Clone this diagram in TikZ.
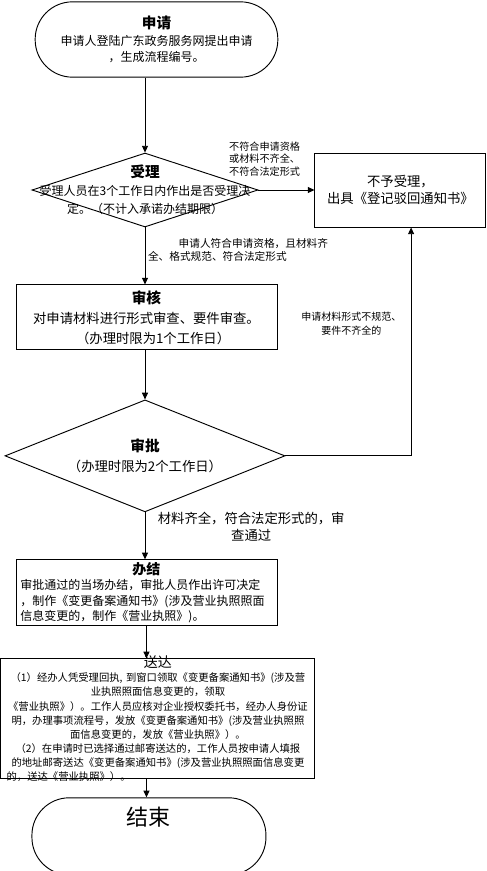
\documentclass[tikz,border=0pt]{standalone}
\usepackage{fontspec}
\setmainfont{Noto Sans CJK SC}
\usepackage{tikz}
\usetikzlibrary{shapes.geometric,arrows.meta,positioning}
\newcommand{\ttl}[1]{{\fontsize{11}{13}\selectfont\bfseries #1}}
\tikzset{
  % Base box
  BX/.style={rectangle,draw,line width=0.7pt,inner sep=2pt,align=center},
  % Start / end
  TM/.style={BX,rounded corners=28pt},
  % Decision
  DM/.style={diamond,draw,line width=0.7pt,inner sep=0pt},
  % Arrow
  arr/.style={-{Triangle[length=5pt,width=4.5pt]},line width=0.6pt},
  % Edge notes
  note/.style={font=\fontsize{7.6}{9.4}\selectfont,inner sep=0pt},
  fsA/.style={font=\fontsize{9}{12}\selectfont},
  fsB/.style={font=\fontsize{10}{15}\selectfont}
}
\begin{document}
\begin{tikzpicture}[x=0.75pt,y=-0.75pt]
  \useasboundingbox (0,0) rectangle (486,871);

  \node[TM,fsA,minimum width=182pt,minimum height=56.5pt] (apply) at (156.5,39.5)
    {\ttl{申请}\\[1pt]申请人登陆广东政务服务网提出申请\\，生成流程编号。};
  \node[DM,minimum width=169.5pt,minimum height=55.5pt,
        label={[fsA,align=center,font=\fontsize{9}{13.5}\selectfont]center:{\ttl{受理}\\受理人员在3个工作日内作出是否受理决\\定。（不计入承诺办结期限）}}] (accept) at (145,190) {};
  \node[BX,right=42pt of accept,minimum width=128.25pt,minimum height=55.5pt,
        font=\fontsize{10}{12.75}\selectfont] (reject) {不予受理，\\出具《登记驳回通知书》};
  \node[BX,fsB,below=42.75pt of accept,xshift=1.1pt,minimum width=195.75pt,minimum height=48.75pt] (review)
    {\ttl{审核}\\对申请材料进行形式审查、要件审查。\\\hspace*{1em}（办理时限为1个工作日）};
  \node[DM,below=36.75pt of review,xshift=-1.1pt,minimum width=210pt,minimum height=84pt,
        label={[fsB,align=center]center:{\ttl{审批}\\（办理时限为2个工作日）}}] (approve) {};
  \node[BX,below=35.25pt of approve,xshift=1.1pt,minimum width=195.75pt,minimum height=49.5pt,
        text width=189pt,align=left,inner xsep=3pt,font=\fontsize{9}{11.6}\selectfont] (done)
    {\makebox[189pt]{\fontsize{10.5}{12}\selectfont\bfseries 办结}\\审批通过的当场办结，审批人员作出许可决定\\，制作《变更备案通知书》(涉及营业执照照面\\信息变更的，制作《营业执照》)。};
  \node[BX,below=24pt of done,xshift=8.6pt,minimum width=235.5pt,minimum height=90pt,
        label={[text width=227pt,align=center,font=\fontsize{7.75}{10.6}\selectfont]center:{%
          {\fontsize{10.5}{11}\selectfont 送达}\\
          （1）经办人凭受理回执, 到窗口领取《变更备案通知书》(涉及营\\
          业执照照面信息变更的，领取\\
          《营业执照》）。工作人员应核对企业授权委托书，经办人身份证\\
          明，办理事项流程号，发放《变更备案通知书》(涉及营业执照照\\
          面信息变更的，发放《营业执照》）。\\
          （2）在申请时已选择通过邮寄送达的，工作人员按申请人填报\\
          的地址邮寄送达《变更备案通知书》(涉及营业执照照面信息变更\\
          的，送达《营业执照》）。\hfill\null}}] (send) {};
  \node[TM,below=13.5pt of send,xshift=-6.75pt,minimum width=175.5pt,minimum height=57.75pt,
        label={[font=\fontsize{16.5}{18}\selectfont,yshift=14.6pt]center:结束}] (finish) {};

  \draw[arr] (apply.south -| accept.north) -- (accept.north);
  \draw[arr] (accept.east) -- node[note,pos=0.11,above=10pt,align=left]
    {不符合申请资格\\或材料不齐全、\\不符合法定形式} (reject.west);
  \draw[arr] (accept.south) -- node[note,pos=0.4,right=2pt,align=left,font=\fontsize{8}{9.8}\selectfont]
    {\hspace*{23pt}申请人符合申请资格，且材料齐\\全、格式规范、符合法定形式} (accept.south |- review.north);
  \draw[arr] (review.south -| approve.north) -- (approve.north);
  \draw[arr] (approve.east) -| node[note,pos=0.79,left=7pt,align=center,font=\fontsize{7.5}{10.5}\selectfont]
    {申请材料形式不规范、\\要件不齐全的} ([xshift=8pt]reject.south);
  \draw[arr] (approve.south) -- node[pos=0.31,right=6pt,align=center,font=\fontsize{10}{12.75}\selectfont]
    {材料齐全，符合法定形式的，审\\查通过} (approve.south |- done.north);
  \draw[arr] (done.south) -- (done.south |- send.north);
  \draw[arr] (send.south -| done.south) -- (done.south |- finish.north);
\end{tikzpicture}
\end{document}
